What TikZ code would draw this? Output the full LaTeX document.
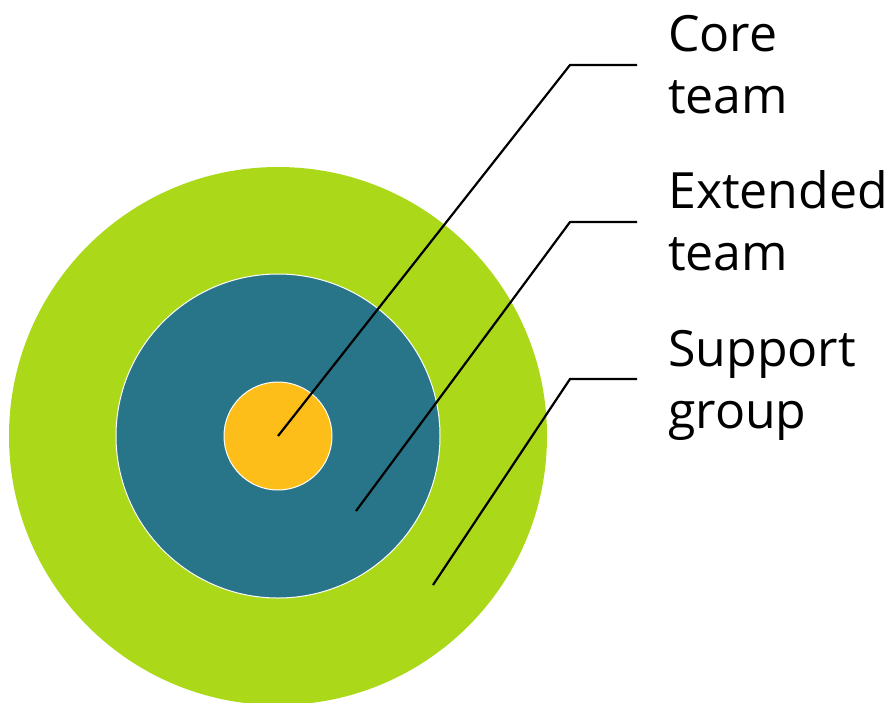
\documentclass[tikz,border=0pt]{standalone}
\usepackage{fontspec}
\setmainfont{Open Sans}

\definecolor{supportgreen}{HTML}{ABD91A}
\definecolor{extendedteal}{HTML}{287589}
\definecolor{coreyellow}{HTML}{FDBE1A}

\tikzset{
  ring/.style={draw=white, line width=1pt},
  leader/.style={draw=black, line width=2.2pt},
  teamlabel/.style={anchor=base west, inner sep=0pt, align=left,
    font=\fontsize{50}{62}\selectfont}
}

\begin{document}
\begin{tikzpicture}[x=1pt, y=-1pt]

  \useasboundingbox (0,0) rectangle (889,702);
  \clip (0,0) rectangle (889,702);

  % Support group
  \fill[supportgreen] (278,436) circle[radius=269pt];

  % Extended team
  \filldraw[ring, fill=extendedteal] (278,436) circle[radius=162pt];

  % Core team
  \filldraw[ring, fill=coreyellow] (278,436) circle[radius=54pt];

  % Labels (anchored on the baseline of the last line)
  \node[teamlabel] (core) at (668,113) {Core\\team};
  \node[teamlabel] (extended) at (668,270) {Extended\\team};
  \node[teamlabel] (support) at (668,428) {Support\\group};

  % Leader lines
  \coordinate (coreend) at (278,436);
  \coordinate (extendedend) at (356,511);
  \coordinate (supportend) at (433,585);
  \draw[leader] (coreend) -- (570,65) -- (637,65);
  \draw[leader] (extendedend) -- (570,222) -- (637,222);
  \draw[leader] (supportend) -- (570,379) -- (637,379);

\end{tikzpicture}
\end{document}
